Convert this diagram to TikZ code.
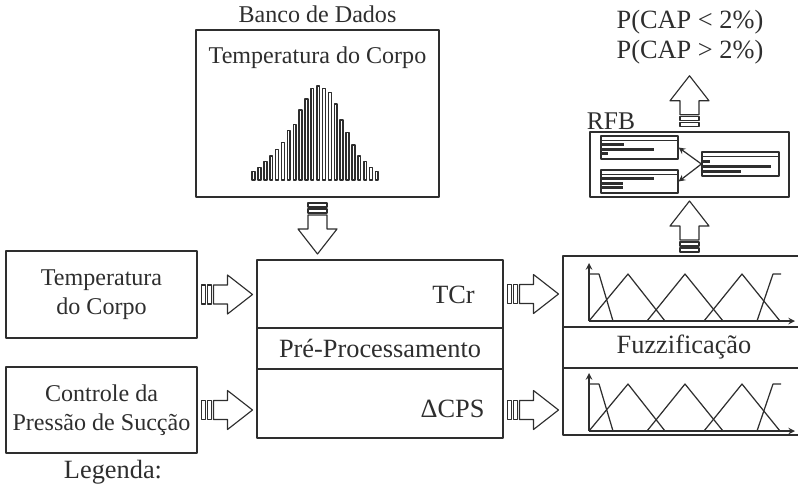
\documentclass[tikz,border=0pt]{standalone}
\usepackage{fontspec}
\setmainfont{Liberation Serif}
\usetikzlibrary{calc,positioning}
\definecolor{ink}{HTML}{2E2E2E}

\begin{document}
\begin{tikzpicture}[>=stealth, x=0.02cm, y=-0.02cm, line join=round, color=ink,
    box/.style={draw, line width=0.85pt, inner sep=0pt},
    txt/.style={inner sep=0pt, align=center, font=\fontsize{13.7}{16.5}\selectfont},
    big/.style={inner sep=0pt, align=center, font=\fontsize{15}{17}\selectfont},
    fline/.style={line width=0.7pt},
    rbar/.style={line width=1.6pt, line cap=butt},
    arrowline/.style={line width=0.65pt, fill=white},
    blockarrow/.pic={
        \draw[arrowline] (-25.5,-9.5) rectangle (-21.5,9.5);
        \draw[arrowline] (-19.5,-9.5) rectangle (-15.5,9.5);
        \draw[arrowline] (-13.5,-9.5) -- (0.5,-9.5) -- (0.5,-19.5) -- (25.5,0)
            -- (0.5,19.5) -- (0.5,9.5) -- (-13.5,9.5) -- cycle;
    }]
    \def\px{0.02cm}
    \useasboundingbox (0,0) rectangle (798,491);

    % banco de dados
    \node[box, minimum width=243*\px, minimum height=167*\px] (db) at (317.5,113.5) {};
    \node[txt] (banco) at (317.5,14) {Banco de Dados};
    \node[txt] (dbtitle) at (317.5,57.5) {Temperatura do Corpo};
    \foreach \h [count=\i from 0] in {8.3,12.3,18.3,24,30.7,37.3,49.3,55.7,70,81,91.7,94,91.7,87.3,76,60,47.3,35,24,18.3,12.3,8.3}
        \draw[line width=0.9pt, fill=white] ({252.2+5.87*\i},180) rectangle ++(2.8,-\h);

    % entradas
    \node[box, txt, minimum width=191*\px, minimum height=87*\px] (tc) at (101.5,294.5) {Temperatura\\do Corpo};
    \node[box, txt, minimum width=191*\px, minimum height=86*\px] (cps) at (101.5,410) {Controle da\\Pressão de Sucção};
    \node[big] (leg) at (113,472) {Legenda:};

    % pre-processamento
    \node[box, minimum width=246*\px, minimum height=68*\px] (tcr) at (380,294) {};
    \node[box, big, minimum width=246*\px, minimum height=41*\px] (prep) at (380,348.5) {Pré-Processamento};
    \node[box, minimum width=246*\px, minimum height=69*\px] (dcps) at (380,403.5) {};
    \node[big] (tcrlab) at (453.5,295) {TCr};
    \node[big] (dcpslab) at (452.5,408.5) {ΔCPS};

    % fuzzificacao
    \node[box, minimum width=242*\px, minimum height=71*\px] (fztop) at (684,291.5) {};
    \node[box, big, minimum width=242*\px, minimum height=41*\px] (fzmid) at (684,347.5) {Fuzzificação};
    \node[box, minimum width=242*\px, minimum height=67*\px] (fzbot) at (684,401.5) {};
    \foreach \yb in {321,431} {
        \draw[->, fline] (589,\yb) -- (589,\yb-58);
        \draw[->, fline] (589,\yb) -- (795,\yb);
        \draw[fline] (589,\yb-47) -- (599,\yb-47) -- (613,\yb);
        \draw[fline] (589,\yb) -- (628,\yb-47) -- (665,\yb);
        \draw[fline] (647,\yb) -- (685,\yb-47) -- (723,\yb);
        \draw[fline] (704,\yb) -- (742,\yb-47) -- (780,\yb);
        \draw[fline] (757,\yb) -- (773,\yb-47) -- (781,\yb-47);
    }

    % base de regras
    \node[box, minimum width=199*\px, minimum height=65*\px] (rfb) at (689.5,164.5) {};
    \node[inner sep=0pt, font=\fontsize{14.5}{17}\selectfont] (rfblab) at (611,121.5) {RFB};
    \node[draw, fline, minimum width=77*\px, minimum height=23*\px] (rba) at (639.5,147.5) {};
    \node[draw, fline, minimum width=77*\px, minimum height=23*\px] (rbb) at (639.5,181.5) {};
    \node[draw, fline, minimum width=77*\px, minimum height=24*\px] (rbc) at (740.5,164) {};
    \foreach \r in {rba,rbb,rbc}
        \draw[fline] ($(\r.north west)+(0,5)$) -- ($(\r.north east)+(0,5)$);
    \foreach \dy/\len in {9.5/24, 14/54, 18.5/8}
        \draw[rbar] ($(rba.north west)+(0,\dy)$) -- ++(\len,0);
    \foreach \dy/\len in {9.5/54, 14/23, 18.5/23}
        \draw[rbar] ($(rbb.north west)+(0,\dy)$) -- ++(\len,0);
    \foreach \dy/\len in {10/9, 15/70, 20/40}
        \draw[rbar] ($(rbc.north west)+(0,\dy)$) -- ++(\len,0);
    \draw[->, fline] (rbc.west) -- (rba.east);
    \draw[->, fline] (rbc.west) -- (rbb.east);

    \node[big] (prob) at (690,37.5) {P(CAP < 2\%)\\P(CAP > 2\%)};

    % setas
    \pic at ($(tc.east)!.5!(tc.east -| tcr.west)$) {blockarrow};
    \pic at ($(cps.east)!.5!(cps.east -| dcps.west)$) {blockarrow};
    \pic at ($(tcr.east)!.5!(tcr.east -| fztop.west)$) {blockarrow};
    \pic at ($(cps.east -| dcps.east)!.5!(cps.east -| fzbot.west)$) {blockarrow};
    \pic[rotate=-90] at ($(db.south)!.5!(db.south |- tcr.north)$) {blockarrow};
    \pic[rotate=90] at ($(rfb.south)!.5!(rfb.south |- fztop.north)$) {blockarrow};
    \pic[rotate=90] at ($(rfb.north)+(0,-30)$) {blockarrow};
\end{tikzpicture}
\end{document}
